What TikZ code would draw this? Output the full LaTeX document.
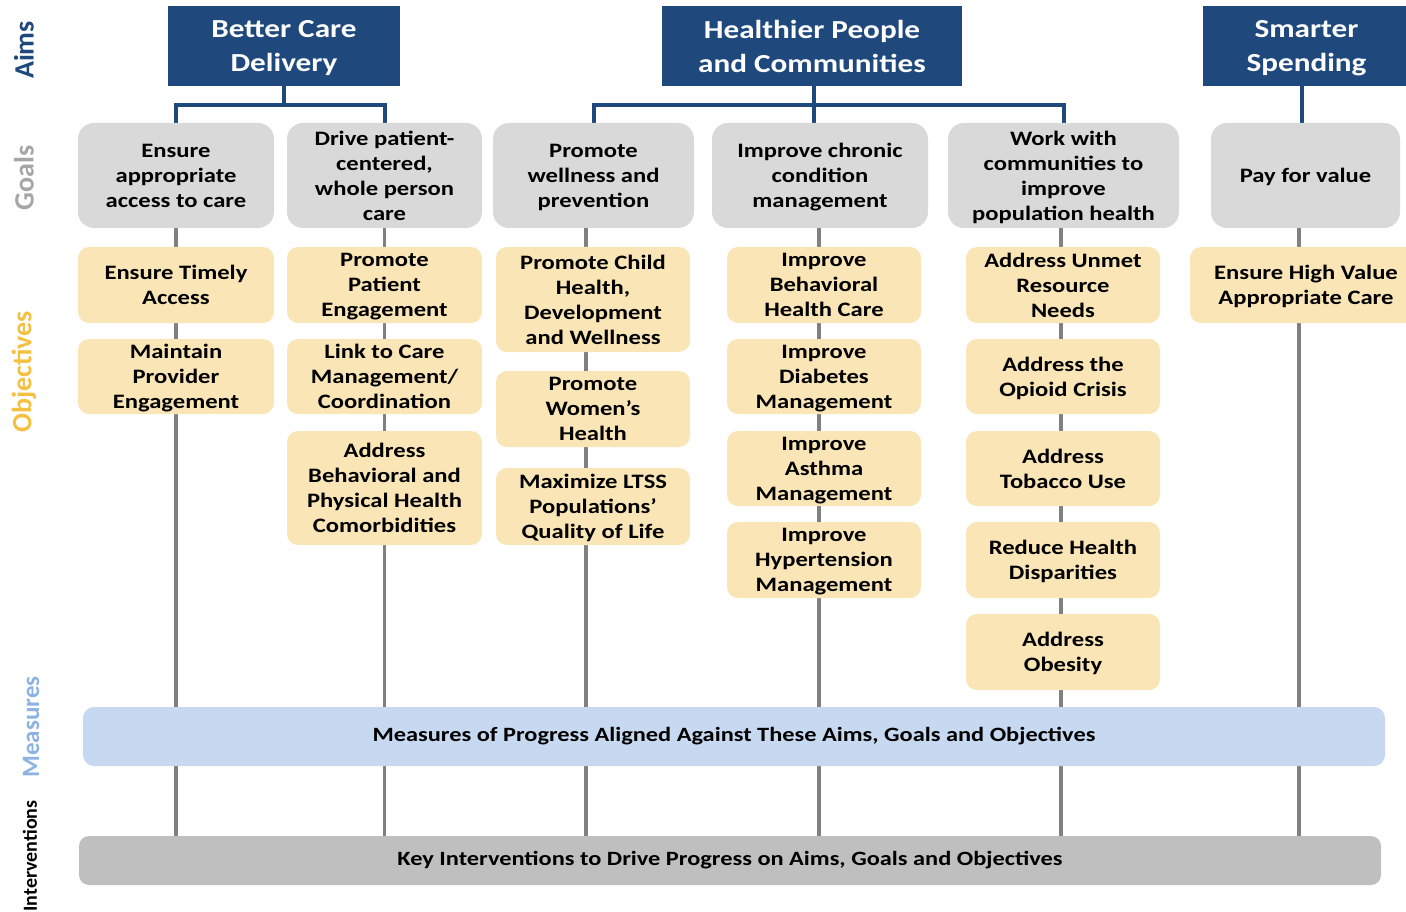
\documentclass[tikz,border=0pt]{standalone}
\usepackage{fontspec}
\setmainfont{Carlito}[FakeStretch=1.2]
\newfontfamily\labfont{Carlito}
\pgfdeclarelayer{background}
\pgfsetlayers{background,main}
\definecolor{aimblue}{RGB}{31,73,125}
\definecolor{goalgray}{RGB}{217,217,217}
\definecolor{objyellow}{RGB}{250,229,182}
\definecolor{measblue}{RGB}{198,217,241}
\definecolor{intgray}{RGB}{191,191,191}
\definecolor{linegray}{RGB}{128,128,128}
\definecolor{labgray}{RGB}{166,166,166}
\definecolor{labyellow}{RGB}{244,192,64}
\definecolor{labblue}{RGB}{141,179,226}
\tikzset{
  aimbox/.style={fill=aimblue, text=white, align=center, inner sep=0pt, text depth=0pt,
    font=\bfseries\fontsize{26}{34}\selectfont},
  goalbox/.style={fill=goalgray, rounded corners=16, align=center, inner sep=0pt, text depth=0pt,
    minimum height=105, font=\bfseries\fontsize{20.5}{25}\selectfont},
  objbox/.style={fill=objyellow, rounded corners=11, align=center, inner sep=0pt, text depth=0pt,
    font=\bfseries\fontsize{20.5}{25}\selectfont},
  barbox/.style={rounded corners=11, inner sep=0pt, font=\bfseries\fontsize{20.3}{24}\selectfont},
  gline/.style={draw=linegray, line width=3.5pt},
  bline/.style={draw=aimblue, line width=4pt},
  sidelab/.style={rotate=90, inner sep=0pt, font=\labfont\bfseries\fontsize{28}{30}\selectfont},
}
\begin{document}
\begin{tikzpicture}[x=1pt,y=-1pt]
\useasboundingbox (0,0) rectangle (1406,912);
% side labels
\node[sidelab, text=aimblue] (lAims) at (24,50) {Aims};
\node[sidelab, text=labgray] (lGoals) at (24,178) {Goals};
\node[sidelab, text=labyellow] (lObj) at (24,372) {Objectives};
\node[sidelab, text=labblue, font=\labfont\bfseries\fontsize{25}{27}\selectfont] (lMeas) at (31,727) {Measures};
\node[sidelab, text=black, font=\labfont\bfseries\fontsize{20}{22}\selectfont] (lInt) at (30,856) {Interventions};
% aims
\node[aimbox, minimum width=232, minimum height=80] (a1) at (284,46) {Better Care\\Delivery};
\node[aimbox, minimum width=300, minimum height=80] (a2) at (812,46) {Healthier People\\and Communities};
\node[aimbox, minimum width=207, minimum height=80] (a3) at (1306.5,46) {Smarter\\Spending};
% goals
\node[goalbox, minimum width=196] (g1) at (176,175.5) {Ensure\\appropriate\\access to care};
\node[goalbox, minimum width=195] (g2) at (384.5,175.5) {Drive patient-\\centered,\\whole person\\care};
\node[goalbox, minimum width=201] (g3) at (593.5,175.5) {Promote\\wellness and\\prevention};
\node[goalbox, minimum width=216] (g4) at (820,175.5) {Improve chronic\\condition\\management};
\node[goalbox, minimum width=231] (g5) at (1063.5,175.5) {Work with\\communities to\\improve\\population health};
\node[goalbox, minimum width=189] (g6) at (1305.5,175.5) {Pay for value};
% objectives col 1
\node[objbox, minimum width=196, minimum height=76] (o11) at (176,285) {Ensure Timely\\Access};
\node[objbox, minimum width=196, minimum height=75] (o12) at (176,376.5) {Maintain\\Provider\\Engagement};
% col 2
\node[objbox, minimum width=195, minimum height=76] (o21) at (384.5,285) {Promote\\Patient\\Engagement};
\node[objbox, minimum width=195, minimum height=75] (o22) at (384.5,376.5) {Link to Care\\Management/\\Coordination};
\node[objbox, minimum width=195, minimum height=114] (o23) at (384.5,488) {Address\\Behavioral and\\Physical Health\\Comorbidities};
% col 3
\node[objbox, minimum width=194, minimum height=105] (o31) at (593,299.5) {Promote Child\\Health,\\Development\\and Wellness};
\node[objbox, minimum width=194, minimum height=76] (o32) at (593,409) {Promote\\Women’s\\Health};
\node[objbox, minimum width=194, minimum height=77] (o33) at (593,506.5) {Maximize LTSS\\Populations’\\Quality of Life};
% col 4
\node[objbox, minimum width=194, minimum height=76] (o41) at (824,285) {Improve\\Behavioral\\Health Care};
\node[objbox, minimum width=194, minimum height=75] (o42) at (824,376.5) {Improve\\Diabetes\\Management};
\node[objbox, minimum width=194, minimum height=75] (o43) at (824,468.5) {Improve\\Asthma\\Management};
\node[objbox, minimum width=194, minimum height=76] (o44) at (824,560) {Improve\\Hypertension\\Management};
% col 5
\node[objbox, minimum width=194, minimum height=76] (o51) at (1063,285) {Address Unmet\\Resource\\Needs};
\node[objbox, minimum width=194, minimum height=75] (o52) at (1063,376.5) {Address the\\Opioid Crisis};
\node[objbox, minimum width=194, minimum height=75] (o53) at (1063,468.5) {Address\\Tobacco Use};
\node[objbox, minimum width=194, minimum height=76] (o54) at (1063,560) {Reduce Health\\Disparities};
\node[objbox, minimum width=194, minimum height=76] (o55) at (1063,652) {Address\\Obesity};
% col 6
\node[objbox, minimum width=232, minimum height=76] (o61) at (1306,285) {Ensure High Value\\Appropriate Care};
% bars
\node[barbox, fill=measblue, minimum width=1302, minimum height=59] (m) at (734,736.5) {Measures of Progress Aligned Against These Aims, Goals and Objectives};
\node[barbox, fill=intgray, rounded corners=10, minimum width=1302, minimum height=49] (k) at (730,860.5) {Key Interventions to Drive Progress on Aims, Goals and Objectives};
% connectors
\coordinate (hb) at (814,105);
\begin{pgfonlayer}{background}
\draw[gline] (g1.south) -- (g1.south |- k.north);
\draw[gline] (g2.south) -- (g2.south |- k.north);
\draw[gline] ([xshift=-7.5pt]g3.south) -- ([xshift=-7.5pt]g3.south |- k.north);
\draw[gline] ([xshift=-1pt]g4.south) -- ([xshift=-1pt]g4.south |- k.north);
\draw[gline] ([xshift=-2.5pt]g5.south) -- ([xshift=-2.5pt]g5.south |- k.north);
\draw[gline] ([xshift=-6.5pt]g6.south) -- ([xshift=-6.5pt]g6.south |- k.north);
\draw[bline] (a1.south) -- ++(0,19) -| (g1.north);
\draw[bline] (a1.south) ++(0,19) -| (g2.north);
\draw[bline] ([xshift=2pt]a2.south) -- ([xshift=-6pt]g4.north);
\draw[bline] (g3.north) -- (g3.north |- hb) -| (g5.north);
\draw[bline] ([xshift=-4.5pt]a3.south) -- ([xshift=-3.5pt]g6.north);
\end{pgfonlayer}
\end{tikzpicture}
\end{document}
